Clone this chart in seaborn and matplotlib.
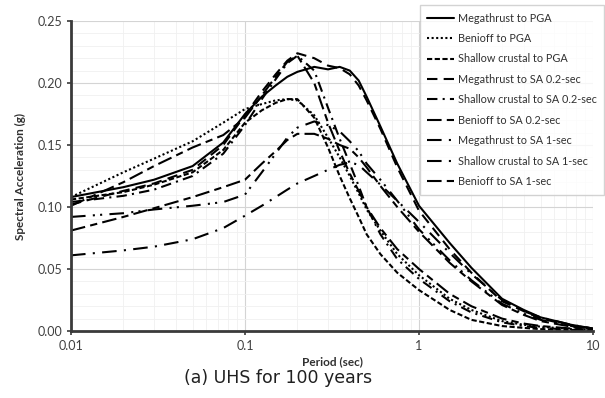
import matplotlib
matplotlib.use("Agg")
import matplotlib.pyplot as plt
from matplotlib.ticker import MultipleLocator, NullFormatter, LogLocator
import seaborn as sns

# Spectral periods (sec)
period = [0.01, 0.02, 0.03, 0.05, 0.075, 0.1, 0.125, 0.15, 0.175, 0.2, 0.25, 0.3, 0.35, 0.4,
          0.45, 0.5, 0.6, 0.75, 1, 1.5, 2, 3, 4, 5, 7.5, 10]

# Spectral acceleration (g) for each source / conditioning period
megathrust_pga = [0.108, 0.116, 0.122, 0.133, 0.152, 0.175, 0.189, 0.198, 0.205, 0.209, 0.213, 0.211,
                  0.213, 0.210, 0.202, 0.189, 0.165, 0.135, 0.101, 0.071, 0.051, 0.026, 0.017,
                  0.011, 0.005, 0.002]
benioff_pga = [0.108, 0.128, 0.139, 0.153, 0.168, 0.179, 0.183, 0.186, 0.187, 0.186, 0.174, 0.156,
               0.140, 0.125, 0.111, 0.098, 0.081, 0.062, 0.045, 0.026, 0.017, 0.008, 0.005,
               0.0035, 0.0015, 0.0008]
shallow_pga = [0.106, 0.112, 0.118, 0.128, 0.146, 0.168, 0.178, 0.184, 0.187, 0.187, 0.172, 0.148,
               0.125, 0.107, 0.092, 0.078, 0.062, 0.047, 0.033, 0.017, 0.009, 0.004, 0.0025,
               0.0015, 0.0008, 0.0004]
megathrust_sa02 = [0.102, 0.113, 0.119, 0.130, 0.150, 0.174, 0.193, 0.207, 0.218, 0.224, 0.220, 0.214,
                   0.212, 0.207, 0.198, 0.186, 0.163, 0.132, 0.097, 0.066, 0.047, 0.024, 0.016,
                   0.010, 0.0045, 0.002]
shallow_sa02 = [0.104, 0.109, 0.114, 0.125, 0.143, 0.166, 0.187, 0.203, 0.216, 0.222, 0.210, 0.180,
                0.155, 0.135, 0.117, 0.100, 0.078, 0.058, 0.042, 0.024, 0.015, 0.007, 0.004,
                0.0025, 0.001, 0.0005]
benioff_sa02 = [0.101, 0.120, 0.133, 0.148, 0.158, 0.172, 0.190, 0.205, 0.217, 0.222, 0.200, 0.168,
                0.145, 0.127, 0.113, 0.100, 0.083, 0.066, 0.050, 0.030, 0.020, 0.010, 0.006,
                0.004, 0.002, 0.001]
megathrust_sa1 = [0.061, 0.065, 0.068, 0.074, 0.083, 0.093, 0.101, 0.108, 0.114, 0.119, 0.125, 0.130,
                  0.134, 0.136, 0.134, 0.128, 0.118, 0.105, 0.088, 0.063, 0.046, 0.025, 0.016,
                  0.011, 0.005, 0.002]
shallow_sa1 = [0.092, 0.095, 0.098, 0.101, 0.104, 0.110, 0.128, 0.143, 0.156, 0.164, 0.169, 0.166,
               0.161, 0.153, 0.145, 0.135, 0.122, 0.105, 0.082, 0.057, 0.041, 0.022, 0.014,
               0.009, 0.004, 0.0015]
benioff_sa1 = [0.081, 0.092, 0.099, 0.108, 0.116, 0.122, 0.135, 0.145, 0.154, 0.159, 0.159, 0.155,
               0.150, 0.147, 0.140, 0.132, 0.117, 0.100, 0.080, 0.055, 0.040, 0.021, 0.013,
               0.008, 0.0035, 0.0015]

labels = ["Megathrust to PGA", "Benioff to PGA", "Shallow crustal to PGA",
          "Megathrust to SA 0.2-sec", "Shallow crustal to SA 0.2-sec", "Benioff to SA 0.2-sec",
          "Megathrust to SA 1-sec", "Shallow crustal to SA 1-sec", "Benioff to SA 1-sec"]
series = [megathrust_pga, benioff_pga, shallow_pga,
          megathrust_sa02, shallow_sa02, benioff_sa02,
          megathrust_sa1, shallow_sa1, benioff_sa1]
line_styles = ["-", (0, (1, 1.2)), (0, (2.5, 1.2)),
               (0, (5, 3)), (0, (5, 2.5, 1, 2.5)), (0, (7, 2.5, 3.5, 2.5)),
               (0, (7, 3.5, 1, 3.5)), (0, (7, 3.5, 1, 2.5, 1, 3.5)), (0, (7, 2.5, 3.5, 2.5))]

sns.set_style("white")
plt.rcParams["font.family"] = ["Lato", "DejaVu Sans"]

fig = plt.figure(figsize=(6.05, 3.98), dpi=100)
ax = fig.add_axes([71 / 605, 1 - 331 / 398, (593 - 71) / 605, (331 - 21) / 398])

for name, values, ls in zip(labels, series, line_styles):
    sns.lineplot(x=period, y=values, ax=ax, color="black", linestyle=ls,
                 linewidth=1.5, label=name)

ax.set_xscale("log")
ax.set_xlim(0.01, 10)
ax.set_ylim(0, 0.25)
ax.set_xticks([0.01, 0.1, 1, 10])
ax.set_xticklabels(["0.01", "0.1", "1", "10"])
ax.xaxis.set_minor_locator(LogLocator(base=10, subs=range(2, 10)))
ax.xaxis.set_minor_formatter(NullFormatter())
ax.set_yticks([0, 0.05, 0.10, 0.15, 0.20, 0.25])
ax.set_yticklabels([f"{v:.2f}" for v in [0, 0.05, 0.10, 0.15, 0.20, 0.25]])
ax.yaxis.set_minor_locator(MultipleLocator(0.01))

ax.grid(which="major", color="#d4d4d4", linewidth=0.8)
ax.grid(which="minor", color="#f0f0f0", linewidth=0.6)
ax.set_axisbelow(True)

for side in ("top", "right"):
    ax.spines[side].set_visible(False)
for side in ("left", "bottom"):
    ax.spines[side].set_color("#3a3a3a")
    ax.spines[side].set_linewidth(2)

ax.tick_params(axis="both", which="major", labelsize=9, labelcolor="#404040",
               color="#3a3a3a", length=3, width=1.2, direction="out",
               left=True, bottom=True)
ax.tick_params(which="minor", length=0)

ax.set_xlabel("Period (sec)", fontsize=8.5, fontweight="bold", color="#303030", labelpad=3)
ax.set_ylabel("Spectral Acceleration (g)", fontsize=8.5, fontweight="bold", color="#303030",
              labelpad=8)

leg = ax.legend(loc="upper right", bbox_to_anchor=(604 / 605, 1 - 5 / 398),
                bbox_transform=fig.transFigure, fontsize=7.8, frameon=True, fancybox=False,
                shadow=False, handlelength=2.5, handletextpad=0.3, labelspacing=0.87,
                borderpad=0.7, borderaxespad=0)
leg.get_frame().set_edgecolor("#c8c8c8")
leg.get_frame().set_linewidth(1.0)
for t in leg.get_texts():
    t.set_color("#303030")

fig.text(278 / 605, 1 - 378 / 398, "(a) UHS for 100 years", ha="center", va="center",
         fontsize=12.5, color="#202020", family="DejaVu Sans")

fig.savefig("out.png", dpi=100, facecolor="white")
